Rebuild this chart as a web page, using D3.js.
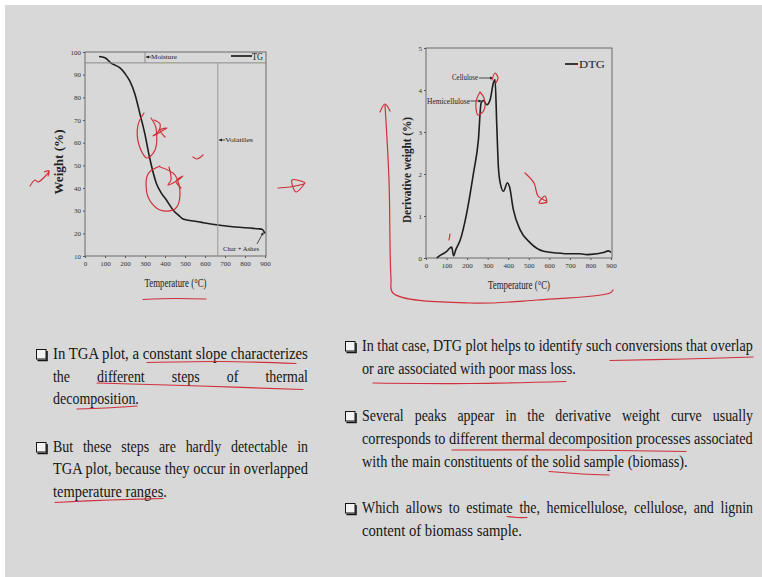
<!DOCTYPE html>
<html>
<head>
<meta charset="utf-8">
<script src="https://cdn.jsdelivr.net/npm/d3@7"></script>
<style>
  body { margin: 0; background: #fff; }
  svg { display: block; }
  .tick text { font-family: "Liberation Serif", serif; font-size: 7px; fill: #333; }
  .tick line { stroke: #555; }
</style>
</head>
<body>
<svg id="slide" width="762" height="577"></svg>
<script>
// TG curve (weight % vs temperature)
const tgTemp   = [70, 100, 132, 150, 175, 200, 225, 249, 274, 299, 324, 357, 380, 407, 441, 470, 491, 550, 591, 674, 750, 841, 866, 885, 900];
const tgWeight = [98, 97.5, 95, 94.2, 93, 90.5, 87, 81.6, 73, 64, 53, 42, 38, 34.7, 30.2, 27.8, 26.3, 25.3, 24.7, 23.6, 22.8, 22.2, 22, 21.8, 20];

// DTG curve (derivative weight % vs temperature)
const dtgTemp  = [52, 75, 101, 117, 125, 134, 145, 166, 198, 231, 255, 268, 279, 296, 312, 328, 336, 344, 352, 361, 377, 396, 406, 425, 458, 507, 572, 637, 702, 750, 783, 830, 864, 888, 900];
const dtgValue = [0, 0.08, 0.16, 0.24, 0.26, 0.05, 0.2, 0.42, 1.07, 2.02, 2.82, 3.69, 3.75, 3.65, 3.77, 4.17, 4.25, 3.2, 2.18, 1.79, 1.59, 1.79, 1.7, 1.15, 0.67, 0.36, 0.16, 0.12, 0.1, 0.1, 0.08, 0.1, 0.13, 0.17, 0.13];

const tempTicks = [0, 100, 200, 300, 400, 500, 600, 700, 800, 900];
const tgTicks   = [10, 20, 30, 40, 50, 60, 70, 80, 90, 100];
const dtgTicks  = [0, 1, 2, 3, 4, 5];

// TG region markers
const moistureLevel = 95.2, moistureEnd = 300, volatilesStart = 664;

// slide text: [text, x, baseline, width, justified]
const leftLines = [
  ["In TGA plot, a constant slope characterizes", 53, 359, 255],
  ["the different steps of thermal", 53, 381.5, 255, true],
  ["decomposition.", 53, 404, 86],
  ["But these steps are hardly detectable in", 53, 451.5, 255, true],
  ["TGA plot, because they occur in overlapped", 53, 474, 255],
  ["temperature ranges.", 53, 496.5, 114]
];
const rightLines = [
  ["In that case, DTG plot helps to identify such conversions that overlap", 362, 351, 391],
  ["or are associated with poor mass loss.", 362, 374, 214],
  ["Several peaks appear in the derivative weight curve usually", 362, 420.5, 391, true],
  ["corresponds to different thermal decomposition processes associated", 362, 443.5, 391],
  ["with the main constituents of the solid sample (biomass).", 362, 466.5, 326],
  ["Which allows to estimate the, hemicellulose, cellulose, and lignin", 362, 512.5, 391, true],
  ["content of biomass sample.", 362, 535.5, 160]
];
const bullets = [[36, 349], [36, 442], [345, 341], [345, 411], [345, 503]];

// red pen marks (page coordinates)
const penMarks = [
  [[147,362.5],[220,361.5],[296,363.5]],
  [[97,383],[200,386],[303,389.5]],
  [[77,409],[105,408],[137,406]],
  [[55,502.5],[110,500],[163,498.5]],
  [[610,360.5],[685,359],[753,357]],
  [[373,383],[470,383.5],[566,381.5]],
  [[452,450],[570,450],[686,451.5]],
  [[549,471.5],[582,474],[609,475]],
  [[507,516.5],[517,517.5],[527,517.5]],
  [[143,299.5],[175,298.5],[206,299]],
  [[385,105],[389,180],[391,278],[393,293],[470,303],[537,300],[610,293],[613,290]],
  [[380,112],[385,104],[390,111]],
  [[144,113],[138,125],[139,145],[147,158],[155,150],[156,128],[151,118]],
  [[154,120],[160,124],[158,132],[153,136],[162,131],[167,128],[160,130],[165,137]],
  [[160,166],[148,174],[148,197],[160,210],[175,209],[180,195],[175,175],[160,167]],
  [[169,167],[171,180],[168,185],[178,180],[183,176],[176,181],[181,188]],
  [[193,157],[197,159],[203,155]],
  [[30,186],[35,180],[38,182],[49,171],[44,172],[49,171],[48,176]],
  [[278,188],[290,187],[305,183],[292,180],[296,192],[305,183]],
  [[480,92],[476,102],[478,115],[484,110],[484,98],[480,92]],
  [[492,80],[495,73],[498,78],[496,83]],
  [[525,173],[534,183],[538,196],[547,202],[539,203],[545,196],[547,202]],
  [[449,240],[450,234]]
];

const svg = d3.select("#slide");
svg.append("rect").attr("x", 5).attr("y", 5).attr("width", 757).attr("height", 572).attr("fill", "#d8d8d8");

function drawPanel(opt) {
  const g = svg.append("g");
  const x = d3.scaleLinear().domain([0, 900]).range([opt.left, opt.right - 1]);
  const y = d3.scaleLinear().domain(opt.yDomain).range([opt.bottom, opt.top]);

  g.append("g").attr("transform", `translate(0,${opt.bottom})`)
    .call(d3.axisBottom(x).tickValues(tempTicks).tickSize(2).tickPadding(3))
    .call(a => a.select(".domain").remove());
  g.append("g").attr("transform", `translate(${opt.left},0)`)
    .call(d3.axisLeft(y).tickValues(opt.yTicks).tickFormat(d3.format("d")).tickSize(2).tickPadding(2))
    .call(a => a.select(".domain").remove());

  g.append("rect")
    .attr("x", opt.left).attr("y", opt.top)
    .attr("width", opt.right - opt.left).attr("height", opt.bottom - opt.top)
    .attr("fill", "none").attr("stroke", "#6a6a6a").attr("stroke-width", 1);

  g.append("text")
    .attr("x", (opt.left + opt.right) / 2).attr("y", opt.bottom + 31)
    .attr("text-anchor", "middle")
    .attr("font-family", "Liberation Serif").attr("font-size", 12).attr("fill", "#222")
    .attr("textLength", 62).attr("lengthAdjust", "spacingAndGlyphs")
    .text("Temperature (\u00B0C)");

  g.append("text")
    .attr("transform", `translate(${opt.ytx},${opt.yty}) rotate(-90)`)
    .attr("text-anchor", "middle").attr("dy", "0.35em")
    .attr("font-family", "Liberation Serif").attr("font-weight", "bold")
    .attr("font-size", 12).attr("fill", "#222")
    .attr("textLength", opt.ytLen).attr("lengthAdjust", "spacingAndGlyphs")
    .text(opt.yTitle);

  g.append("path")
    .datum(opt.xs.map((t, i) => [t, opt.ys[i]]))
    .attr("fill", "none").attr("stroke", "#1e1e1e").attr("stroke-width", 1.6)
    .attr("stroke-linejoin", "round")
    .attr("d", d3.line().x(d => x(d[0])).y(d => y(d[1])).curve(d3.curveMonotoneX));

  return { g, x, y };
}

function arrowLeft(g, x1, x2, yy) {
  g.append("line").attr("x1", x1).attr("x2", x2).attr("y1", yy).attr("y2", yy)
    .attr("stroke", "#222").attr("stroke-width", 0.8);
  g.append("path").attr("d", `M${x1},${yy} l3,-1.5 l0,3 z`).attr("fill", "#222");
}
function arrowRight(g, x1, x2, yy) {
  g.append("line").attr("x1", x1).attr("x2", x2).attr("y1", yy).attr("y2", yy)
    .attr("stroke", "#222").attr("stroke-width", 0.8);
  g.append("path").attr("d", `M${x2},${yy} l-3,-1.5 l0,3 z`).attr("fill", "#222");
}
function label(g, txt, x, y, size, len) {
  const t = g.append("text").attr("x", x).attr("y", y).attr("dy", "0.35em")
    .attr("font-family", "Liberation Serif").attr("font-size", size).attr("fill", "#222")
    .text(txt);
  if (len) t.attr("textLength", len).attr("lengthAdjust", "spacingAndGlyphs");
  return t;
}

// TGA panel
const tg = drawPanel({
  left: 85, right: 266, top: 52, bottom: 256,
  yDomain: [10, 100], yTicks: tgTicks,
  xs: tgTemp, ys: tgWeight,
  yTitle: "Weight (%)", ytx: 59, yty: 162, ytLen: 65
});
tg.g.append("line")
  .attr("x1", 85).attr("x2", 266).attr("y1", tg.y(moistureLevel)).attr("y2", tg.y(moistureLevel))
  .attr("stroke", "#8a8a8a");
tg.g.append("line")
  .attr("x1", tg.x(moistureEnd)).attr("x2", tg.x(moistureEnd)).attr("y1", 52).attr("y2", tg.y(moistureLevel))
  .attr("stroke", "#8a8a8a");
tg.g.append("line")
  .attr("x1", tg.x(volatilesStart)).attr("x2", tg.x(volatilesStart)).attr("y1", tg.y(moistureLevel)).attr("y2", 256)
  .attr("stroke", "#9a9a9a");
arrowLeft(tg.g, 146, 151, 57);
label(tg.g, "Moisture", 151, 57, 7, 26);
arrowLeft(tg.g, 219, 225, 140);
label(tg.g, "Volatiles", 225, 140, 7, 28);
label(tg.g, "Char + Ashes", 223, 248.5, 7, 36);
tg.g.append("line").attr("x1", 257).attr("y1", 244).attr("x2", 263).attr("y2", 233).attr("stroke", "#222").attr("stroke-width", 0.8);
tg.g.append("path").attr("d", "M263.5,232 l-0.2,3.6 l-2.6,-1.4 z").attr("fill", "#222");
tg.g.append("line").attr("x1", 231).attr("x2", 252).attr("y1", 56).attr("y2", 56).attr("stroke", "#111").attr("stroke-width", 1.6);
label(tg.g, "TG", 252, 56, 10.5, 11);

// DTG panel
const dtg = drawPanel({
  left: 426, right: 612, top: 48, bottom: 258,
  yDomain: [0, 5], yTicks: dtgTicks,
  xs: dtgTemp, ys: dtgValue,
  yTitle: "Derivative weight (%)", ytx: 407, yty: 170, ytLen: 106
});
dtg.g.append("line").attr("x1", 565).attr("x2", 578).attr("y1", 64).attr("y2", 64).attr("stroke", "#111").attr("stroke-width", 1.6);
label(dtg.g, "DTG", 579, 64, 10.5, 26);
label(dtg.g, "Cellulose", 452, 77.5, 7.5, 26);
arrowRight(dtg.g, 479, 493, 78);
label(dtg.g, "Hemicellulose", 427, 101, 7.5, 43);
arrowRight(dtg.g, 470.5, 481.5, 101);

// slide text
const txt = svg.append("g").attr("font-family", "Liberation Serif").attr("font-size", 16).attr("fill", "#151515");
const squeeze = 0.87;
leftLines.concat(rightLines).forEach(l => {
  if (!l[4]) {
    // squeeze the whole line horizontally to its measured width
    const t = txt.append("text").text(l[0]);
    const sx = l[3] / t.node().getComputedTextLength();
    t.attr("transform", `translate(${l[1]},${l[2]}) scale(${sx},1)`);
    return;
  }
  // justified line: spread the words over the full width
  const words = l[0].split(" ");
  const nodes = words.map(w => txt.append("text").text(w));
  const natural = nodes.map(n => n.node().getComputedTextLength());
  const widths = natural.map(w => w * squeeze);
  const gap = (l[3] - d3.sum(widths)) / (words.length - 1);
  let cx = l[1];
  nodes.forEach((n, i) => {
    n.attr("transform", `translate(${cx},${l[2]}) scale(${squeeze},1)`);
    cx += widths[i] + gap;
  });
});
bullets.forEach(b => {
  svg.append("rect").attr("x", b[0] + 0.5).attr("y", b[1] + 0.5).attr("width", 9.5).attr("height", 9.5)
    .attr("fill", "#f2f2f2").attr("stroke", "#151515").attr("stroke-width", 1);
  svg.append("path").attr("d", `M${b[0] + 11},${b[1] + 2} v9.5 h-9.5`)
    .attr("fill", "none").attr("stroke", "#151515").attr("stroke-width", 1.6);
});

// red pen annotations
const pen = d3.line().curve(d3.curveCatmullRom);
svg.append("g").selectAll("path").data(penMarks).join("path")
  .attr("d", pen).attr("fill", "none")
  .attr("stroke", "#d0303a").attr("stroke-width", 1.2).attr("stroke-linecap", "round");
</script>
</body>
</html>
